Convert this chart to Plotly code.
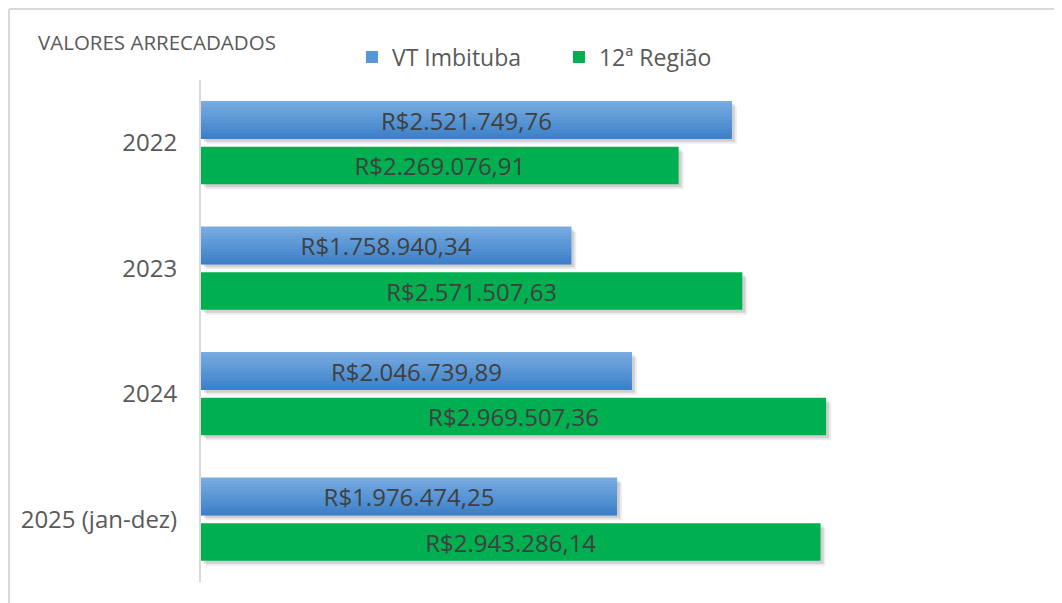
import plotly.graph_objects as go

# data
anos = ["2022", "2023", "2024", "2025 (jan-dez)"]
vt_imbituba = [2521749.76, 1758940.34, 2046739.89, 1976474.25]
regiao_12 = [2269076.91, 2571507.63, 2969507.36, 2943286.14]

FONT = "Open Sans"
X_MAX = 4000000
PX = X_MAX / 842          # data units per pixel on x
CAT_PX = 125.5            # pixels per category

bar_w = 37.5 / CAT_PX
half_gap = 4 / CAT_PX
off_blue = -half_gap - bar_w
off_green = half_gap


def mix(c1, c2, t):
    a = [int(c1[i:i + 2], 16) for i in (1, 3, 5)]
    b = [int(c2[i:i + 2], 16) for i in (1, 3, 5)]
    return "rgb(%d,%d,%d)" % tuple(round(a[k] + (b[k] - a[k]) * t) for k in range(3))


n = 12
blues = [mix("#77abe0", "#3c80c9", i / (n - 1)) for i in range(n)]

fig = go.Figure()

# soft drop shadows
for shift, alpha in [(5, 0.07), (3, 0.12)]:
    for vals, off in [(vt_imbituba, off_blue), (regiao_12, off_green)]:
        fig.add_trace(go.Bar(
            x=vals, y=anos, orientation="h", base=shift * PX,
            offset=off + shift / CAT_PX, width=bar_w,
            marker=dict(color=f"rgba(0,0,0,{alpha})", line_width=0),
            showlegend=False, hoverinfo="skip", textposition="none"))

# blue series (legend + gradient strips)
fig.add_trace(go.Bar(
    x=vt_imbituba, y=anos, orientation="h", name="VT Imbituba",
    offset=off_blue, width=bar_w,
    marker=dict(color="#5797d8", line_width=0), textposition="none"))
for i, c in enumerate(blues):
    fig.add_trace(go.Bar(
        x=vt_imbituba, y=anos, orientation="h",
        offset=off_blue + i * bar_w / n, width=bar_w / n + 0.002,
        marker=dict(color=c, line_width=0),
        showlegend=False, hoverinfo="skip", textposition="none"))

# green series
fig.add_trace(go.Bar(
    x=regiao_12, y=anos, orientation="h", name="12ª Região",
    offset=off_green, width=bar_w,
    marker=dict(color="#00b050", line_width=0),
    texttemplate="R$%{x:,.2f}", textposition="inside",
    insidetextanchor="middle", constraintext="none",
    textfont=dict(family=FONT, size=24, color="#404040")))

# labels for blue series
fig.add_trace(go.Bar(
    x=vt_imbituba, y=anos, orientation="h",
    offset=off_blue, width=bar_w,
    marker=dict(color="rgba(0,0,0,0)", line_width=0),
    texttemplate="R$%{x:,.2f}", textposition="inside",
    insidetextanchor="middle", constraintext="none",
    textfont=dict(family=FONT, size=24, color="#404040"),
    showlegend=False, hoverinfo="skip"))

# chart frame (top and left edges visible)
fx = (1 - 193) / 842
fy = 1 + (72 - 1) / 502

fig.update_layout(
    width=1054, height=595,
    barmode="overlay",
    separators=",.",
    paper_bgcolor="white", plot_bgcolor="white",
    margin=dict(l=193, r=19, t=72, b=21, autoexpand=False),
    font=dict(family=FONT, color="#595959"),
    title=dict(text="VALORES ARRECADADOS", x=30 / 1054, xanchor="left",
               xref="container", y=1 - 35 / 595, yanchor="middle",
               font=dict(family=FONT, size=20.5, color="#595959")),
    legend=dict(orientation="h", xref="paper", x=0.1793, xanchor="left",
                yref="container", y=1 - 49 / 595, yanchor="middle",
                traceorder="normal", font=dict(size=23, color="#595959"),
                bgcolor="rgba(0,0,0,0)", itemwidth=30,
                entrywidth=162, entrywidthmode="pixels"),
    xaxis=dict(range=[0, X_MAX], visible=False, fixedrange=True),
    yaxis=dict(type="category", categoryorder="array", categoryarray=anos,
               range=[3.5, -0.5], showline=True, linecolor="#d9d9d9",
               linewidth=2, ticks="", showgrid=False, ticklabelstandoff=17,
               tickfont=dict(family=FONT, size=24, color="#595959")),
    shapes=[
        dict(type="line", xref="paper", yref="paper",
             x0=fx, x1=fx, y0=-0.2, y1=fy,
             line=dict(color="#d9d9d9", width=2)),
        dict(type="line", xref="paper", yref="paper",
             x0=fx, x1=1.2, y0=fy, y1=fy,
             line=dict(color="#d9d9d9", width=2)),
    ],
)

fig.write_html("out.html")
